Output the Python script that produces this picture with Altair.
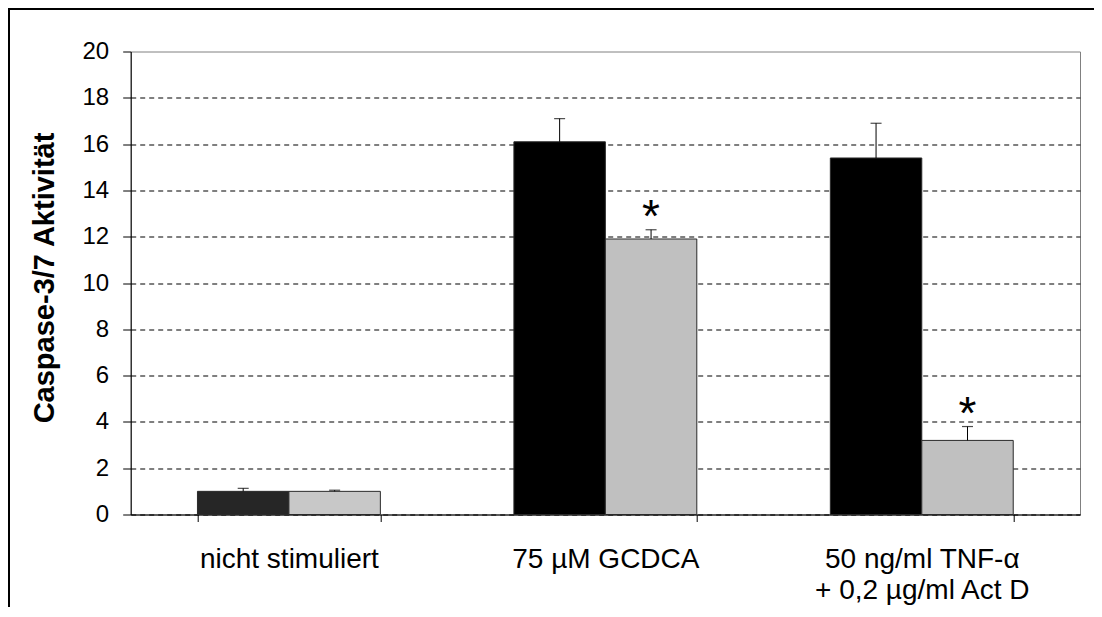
import altair as alt
import pandas as pd

# ---- data ----
categories = ["nicht stimuliert", "75 µM GCDCA", "50 ng/ml TNF-α\n+ 0,2 µg/ml Act D"]
series = ["Serie 1", "Serie 2"]
values_s1 = [1.0, 16.1, 15.4]
err_s1 = [0.13, 1.0, 1.5]
values_s2 = [1.0, 11.9, 3.2]
err_s2 = [0.05, 0.4, 0.6]
signif_s2 = [False, True, True]
y_ticks = [0, 2, 4, 6, 8, 10, 12, 14, 16, 18, 20]

rows = []
for i, cat in enumerate(categories):
    tag = "-gemustert" if i == 0 else ""
    rows.append({"category": cat, "series": series[0], "value": values_s1[i],
                 "err": err_s1[i], "sig": False, "fillkey": series[0] + tag})
    rows.append({"category": cat, "series": series[1], "value": values_s2[i],
                 "err": err_s2[i], "sig": signif_s2[i], "fillkey": series[1] + tag})
df = pd.DataFrame(rows)

FONT = "Liberation Sans"

x_enc = alt.X(
    "category:N", sort=categories,
    scale=alt.Scale(paddingInner=0.422, paddingOuter=0.211),
    axis=alt.Axis(
        title=None, labelAngle=0, labelFont=FONT, labelFontSize=28, labelColor="black",
        labelBaseline="middle", labelLineHeight=31, labelPadding=38, labelLimit=500,
        labelExpr="split(datum.label, '\\n')",
        tickSize=7, tickColor="black", tickBand="extent", domainColor="black",
        domainWidth=1, grid=False,
    ),
)
xoff_enc = alt.XOffset("series:N", sort=series,
                       scale=alt.Scale(paddingInner=0, paddingOuter=0))

y_scale = alt.Scale(domain=[0, 20], nice=False)
y_axis = alt.Axis(
    values=y_ticks, title="Caspase-3/7 Aktivität",
    titleFont=FONT, titleFontSize=29, titleFontWeight="bold", titleColor="black",
    titleAngle=270, titleAlign="center", titleBaseline="middle",
    titleX=-86, titleY=226,
    labelFont=FONT, labelFontSize=24, labelColor="black", labelPadding=14,
    tickSize=8, tickColor="black", domainColor="black", domainWidth=1,
    grid=True, gridColor="#000000", gridDash=[5, 4], gridWidth=1.1,
    gridOpacity={"condition": {"test": "datum.value >= 20", "value": 0}, "value": 1},
)

base = alt.Chart(df).encode(x=x_enc, xOffset=xoff_enc)

bars = base.mark_bar(stroke="#2a2a2a", strokeWidth=1).encode(
    y=alt.Y("value:Q", scale=y_scale, axis=y_axis),
    color=alt.Color(
        "fillkey:N",
        scale=alt.Scale(domain=["Serie 1-gemustert", "Serie 2-gemustert", "Serie 1", "Serie 2"],
                        range=["#262626", "#c8c8c8", "#000000", "#c0c0c0"]),
        legend=None,
    ),
)

with_top = base.transform_calculate(top="datum.value + datum.err")

err_rules = with_top.mark_rule(color="black", strokeWidth=1).encode(
    y=alt.Y("value:Q", scale=y_scale), y2="top:Q"
)
caps = with_top.mark_tick(orient="horizontal", size=11, thickness=1.2, color="black").encode(
    y=alt.Y("top:Q", scale=y_scale)
)
stars = with_top.transform_filter("datum.sig").mark_text(
    text="*", font=FONT, fontSize=46, baseline="alphabetic", dy=2, color="black"
).encode(y=alt.Y("top:Q", scale=y_scale))

frame_data = alt.Chart(pd.DataFrame({"k": [0]}))
frame_left = frame_data.mark_rule(color="black", strokeWidth=2).encode(
    x=alt.value(-121.7), y=alt.value(-43.5), y2=alt.value(560)
)
frame_top = frame_data.mark_rule(color="black", strokeWidth=2).encode(
    x=alt.value(-122.7), x2=alt.value(970), y=alt.value(-42.5)
)

chart = alt.layer(bars, err_rules, caps, stars, frame_left, frame_top).properties(
    width=949.3, height=463,
    autosize=alt.AutoSizeParams(type="none"),
    padding={"left": 122.7, "top": 43.5, "right": 14, "bottom": 92},
    background="white",
).configure_view(stroke="#808080", strokeWidth=1)

chart.save("out.html", embed_options={"renderer": "svg", "actions": False})
